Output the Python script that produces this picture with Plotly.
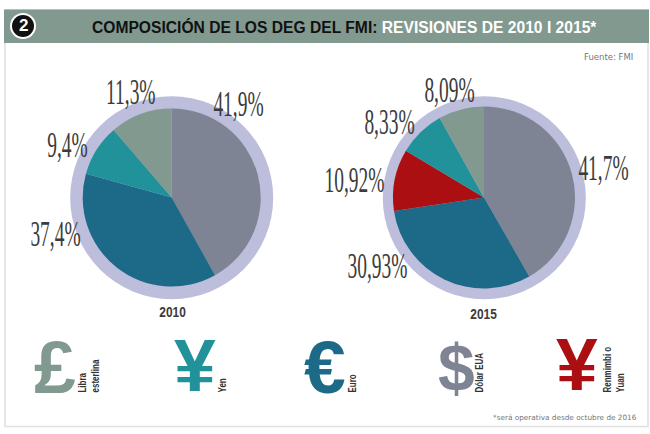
import plotly.graph_objects as go

labels_2010 = ['Dólar EUA', 'Euro', 'Yen', 'Libra esterlina']
values_2010 = [41.9, 37.4, 9.4, 11.3]
text_2010 = ['41,9%', '37,4%', '9,4%', '11,3%']
colors_2010 = ['#7e8494', '#1c6a87', '#21929a', '#82998f']

labels_2015 = ['Dólar EUA', 'Euro', 'Renmimbi o Yuan', 'Yen', 'Libra esterlina']
values_2015 = [41.7, 30.93, 10.92, 8.33, 8.09]
text_2015 = ['41,7%', '30,93%', '10,92%', '8,33%', '8,09%']
colors_2015 = ['#7e8494', '#1c6a87', '#ab0f12', '#21929a', '#82998f']

symbols = ['£', '¥', '€', '$', '¥']
symbol_colors = ['#82998f', '#21929a', '#1c6a87', '#7e8494', '#ab0f12']
symbol_names = ['Libra<br>esterlina', 'Yen', 'Euro', 'Dólar EUA', 'Renmimbi o<br>Yuan']

W = 650
H = 434
SANS = 'Liberation Sans'
SERIF = 'Liberation Serif'


def px_x(x):
	return x / W


def px_y(y):
	return 1 - y / H


def circle_shape(cx, cy, r, color):
	return dict(type='circle', xref='paper', yref='paper', layer='below',
		x0=px_x(cx - r), x1=px_x(cx + r), y0=px_y(cy + r), y1=px_y(cy - r),
		fillcolor=color, line_width=0)


def note(x, y, text, size, color='#333333', family=SANS, angle=0, xanchor='center', yanchor='middle', bold=False):
	if bold:
		text = '<b>' + text + '</b>'
	return dict(x=px_x(x), y=px_y(y), xref='paper', yref='paper', text=text, showarrow=False,
		font=dict(size=size, color=color, family=family), textangle=angle,
		xanchor=xanchor, yanchor=yanchor, align='left')


def pie_trace(labels, values, colors, cx, cy, r):
	return go.Pie(labels=labels, values=values, sort=False, direction='clockwise', rotation=0,
		marker=dict(colors=colors, line=dict(width=0)), textinfo='none', hoverinfo='label+value',
		showlegend=False,
		domain=dict(x=[px_x(cx - r), px_x(cx + r)], y=[px_y(cy + r), px_y(cy - r)]))


fig = go.Figure()
fig.add_trace(pie_trace(labels_2010, values_2010, colors_2010, 171.7, 197.5, 89))
fig.add_trace(pie_trace(labels_2015, values_2015, colors_2015, 484, 197.5, 91))

shapes = [
	dict(type='rect', xref='paper', yref='paper', layer='below', x0=px_x(5), x1=px_x(648), y0=px_y(426.5), y1=px_y(10),
		fillcolor='white', line=dict(color='#e0e0e3', width=1.5)),
	dict(type='rect', xref='paper', yref='paper', layer='below', x0=px_x(4), x1=px_x(649), y0=px_y(43), y1=px_y(9.5),
		fillcolor='#82998f', line_width=0),
	circle_shape(23, 26, 13, 'white'),
	circle_shape(23, 26, 11, '#111111'),
	circle_shape(171.7, 197.7, 101.5, '#bdbddc'),
	circle_shape(484.3, 197.7, 101.5, '#bdbddc'),
]

annotations = [
	note(23, 26, '2', 17, color='white', bold=True),
	note(344, 27, '<b>COMPOSICIÓN DE LOS DEG DEL FMI: </b><span style="color:white">REVISIONES DE 2010 I 2015*</span>', 17,
		color='#111111'),
	note(635, 57, 'Fuente: FMI', 8.5, color='#777777', family='DejaVu Sans', xanchor='right'),
	note(639, 417, '*será operativa desde octubre de 2016', 7.3, color='#777777', family='DejaVu Sans', xanchor='right'),
	note(172, 312, '2010', 14, color='#3a3a3a', bold=True),
	note(484, 314, '2015', 14, color='#3a3a3a', bold=True),
]

# etiquetas de porcentaje
label_pos_2010 = [(238, 104), (55.5, 234), (67, 145), (130.5, 92)]
label_pos_2015 = [(603, 168), (377, 266), (355, 180), (389, 122), (449, 90)]
for (x, y), t in zip(label_pos_2010, text_2010):
	annotations.append(note(x, y, t, 36, color='#3c3c3c', family=SERIF))
for (x, y), t in zip(label_pos_2015, text_2015):
	annotations.append(note(x, y, t, 36, color='#3c3c3c', family=SERIF))

# leyenda de monedas
symbol_pos = [(55, 367), (194.5, 365), (324.5, 367), (456, 368), (577, 364)]
symbol_sizes = [75, 75, 75, 66, 75]
name_pos = [(89.5, 395), (222.5, 395), (353, 395), (480, 395), (614, 395)]
for (x, y), s, c, z in zip(symbol_pos, symbols, symbol_colors, symbol_sizes):
	annotations.append(note(x, y, s, z, color=c, bold=True))
for (x, y), n in zip(name_pos, symbol_names):
	annotations.append(note(x, y, n, 10, color='#333333', angle=-90, yanchor='bottom', bold=True))

fig.update_layout(width=W, height=H, margin=dict(l=0, r=0, t=0, b=0), paper_bgcolor='white',
	shapes=shapes, annotations=annotations)

# no hay fuentes condensadas: se estrecha el texto real con CSS
squeeze = """
document.body.style.margin = '0';
var gd = document.getElementById('{plot_id}');
function squeeze() {
	gd.querySelectorAll('.annotation-text').forEach(function (el) {
		var t = el.textContent, sx = null, origin = 'center';
		if (/%$/.test(t)) { sx = 0.54; }
		else if (/^COMPOSICI/.test(t)) {
			sx = 0.92;
			el.querySelectorAll('tspan').forEach(function (s) { s.style.fontWeight = 'bold'; });
		}
		else if (/^(2010|2015)$/.test(t)) { sx = 0.85; }
		else if (/^(Libra|Yen|Euro|Dólar|Renmimbi)/.test(t)) { sx = 0.8; origin = 'left center'; }
		if (sx) {
			el.style.transformBox = 'fill-box';
			el.style.transformOrigin = origin;
			el.style.transform = 'scaleX(' + sx + ')';
		}
	});
}
gd.on('plotly_afterplot', squeeze);
squeeze();
"""

fig.write_html("out.html", post_script=squeeze, config=dict(displayModeBar=False))
